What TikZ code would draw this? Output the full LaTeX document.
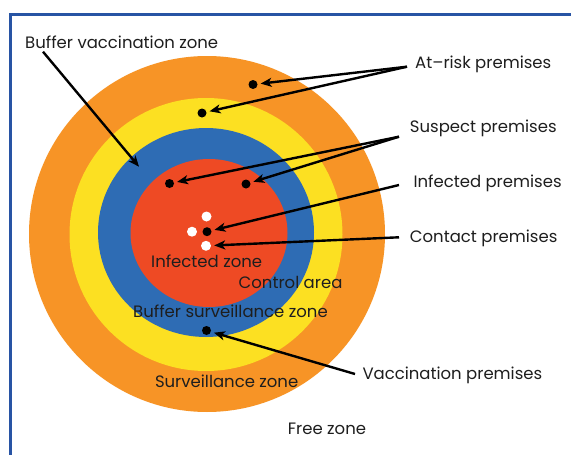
\documentclass[tikz,border=0pt]{standalone}
\usepackage{fontspec}
\setmainfont{Poppins}
\usetikzlibrary{arrows.meta}
\definecolor{cOrange}{RGB}{247,148,38}
\definecolor{cYellow}{RGB}{252,224,34}
\definecolor{cBlue}{RGB}{46,108,180}
\definecolor{cRed}{RGB}{238,74,36}
\definecolor{cFrame}{RGB}{40,84,164}
\definecolor{cText}{RGB}{30,30,30}
\tikzset{
  lbl/.style={anchor=west,inner sep=0pt,text=cText,font=\fontsize{16.5}{19}\selectfont},
  zlbl/.style={anchor=west,inner sep=0pt,text=cText,font=\fontsize{16.5}{19}\selectfont},
  bdot/.style={circle,fill=black,minimum size=9pt,inner sep=0pt},
  wdot/.style={circle,fill=white,minimum size=10pt,inner sep=0pt},
  arr/.style={draw=black,line width=2.4pt,-{Stealth[length=11pt,width=9pt,inset=3pt]},shorten >=3pt}
}
\begin{document}
\begin{tikzpicture}[x=1pt,y=-1pt]
\useasboundingbox (0,0) rectangle (571,455);
\fill[white] (0,0) rectangle (571,455);
% frame
\draw[cFrame,line width=2.6pt] (10.3,455) -- (10.3,14.7) -- (571,14.7);
% zones
\fill[cOrange] (207,234) circle (178);
\fill[cYellow] (206,234.5) circle (136.5);
\fill[cBlue] (206,232.5) ellipse (108 and 104.5);
\fill[cRed] (209,233) ellipse (78.5 and 74);
% dots
\node[bdot] (ar1) at (253,84.5) {};
\node[bdot] (ar2) at (202,113) {};
\node[bdot] (sp1) at (169.5,183.5) {};
\node[bdot] (sp2) at (246,184) {};
\node[bdot] (inf) at (207,231.7) {};
\node[wdot] (w1) at (206.5,216.5) {};
\node[wdot] (w2) at (192,231.7) {};
\node[wdot] (cont) at (206,245.8) {};
\node[bdot] (vac) at (206.5,330.5) {};
% labels
\node[lbl] (tbv) at (25,42) {Buffer vaccination zone};
\node[lbl] (tar) at (415,64.3) {At–risk premises};
\node[lbl] (tsp) at (409.7,128.3) {Suspect premises};
\node[lbl] (tinf) at (413.3,183.3) {Infected premises};
\node[lbl] (tcon) at (409.7,238.3) {Contact premises};
\node[lbl] (tvac) at (362.3,375) {Vaccination premises};
\node[zlbl] (zinf) at (151,261.7) {Infected zone};
\node[zlbl] (zctl) at (238.5,282.7) {Control area};
\node[zlbl] (zbs) at (133,311.7) {Buffer surveillance zone};
\node[zlbl] (zsv) at (154.8,381) {Surveillance zone};
\node[zlbl] (zfree) at (287.7,429.3) {Free zone};
% connector start points
\coordinate (sar) at (407,66.7);
\coordinate (ssp) at (399,136.7);
\coordinate (sinf) at (399,185);
\coordinate (scon) at (399,237.3);
\coordinate (svac) at (355,374);
\coordinate (sbv) at (43,51.7);
\coordinate (ebv) at (139,166.7);
% arrows
\draw[arr] (sar) -- (ar1);
\draw[arr] (sar) -- (ar2);
\draw[arr] (ssp) -- (sp1);
\draw[arr] (ssp) -- (sp2);
\draw[arr] (sinf) -- (inf);
\draw[arr] (scon) -- (cont);
\draw[arr] (svac) -- (vac);
\draw[arr,shorten >=0pt] (sbv) -- (ebv);
\end{tikzpicture}
\end{document}
